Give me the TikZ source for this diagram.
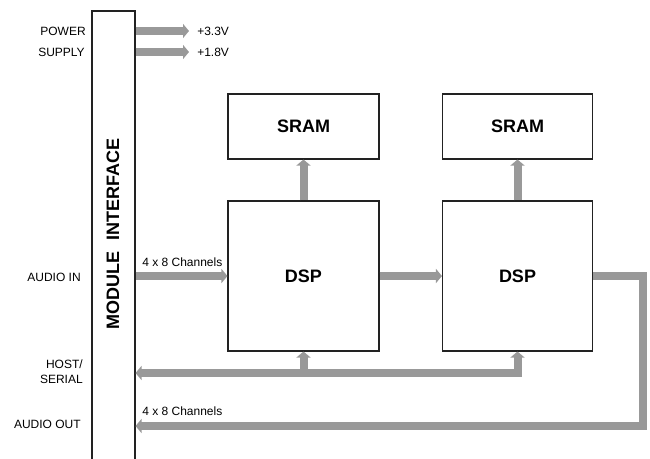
\documentclass[tikz,border=0pt]{standalone}
\usepackage{fontspec}
\setmainfont{Liberation Sans}
\usetikzlibrary{arrows.meta,calc}
\definecolor{busgray}{HTML}{999999}
\definecolor{boxline}{HTML}{222222}
\tikzset{
  tri/.tip={Triangle[length=4.5pt,width=10.5pt]},
  blockbox/.style={draw=boxline, line width=0.8pt, fill=white, inner sep=0pt,
    font=\bfseries\fontsize{13.5}{16}\selectfont},
  bus/.style={draw=busgray, line width=6pt, line join=miter, -tri},
  lbl/.style={font=\fontsize{9}{11}\selectfont, inner sep=0pt},
}
\begin{document}
\begin{tikzpicture}[x=0.75pt,y=-0.75pt]
\useasboundingbox (0,0) rectangle (650,458);
% module interface
\node[blockbox, minimum width=32.25pt, minimum height=344.25pt] (mod) at (113.5,240.5) {};
\node[rotate=90, inner sep=0pt, font=\bfseries\fontsize{13.5}{16}\selectfont] (modtxt) at (113,234) {MODULE\hspace{0.56em}INTERFACE};
% blocks
\node[blockbox, minimum width=113.25pt, minimum height=48.75pt] (sram1) at (303.5,126.5) {SRAM};
\node[blockbox, minimum width=112.5pt, minimum height=48.75pt] (sram2) at (517.5,126.5) {SRAM};
\node[blockbox, minimum width=113.25pt, minimum height=112.5pt] (dsp1) at (303.5,276) {DSP};
\node[blockbox, minimum width=112.5pt, minimum height=112.5pt] (dsp2) at (517.5,276) {DSP};
% left labels
\node[lbl, anchor=east] (lpow) at (86,31) {POWER};
\node[lbl, anchor=east] (lsup) at (85,52) {SUPPLY};
\node[lbl, anchor=east] (lain) at (81,277) {AUDIO IN};
\node[lbl, anchor=east, align=right] (lhost) at (83,372) {HOST/\\SERIAL};
\node[lbl, anchor=east] (laout) at (81,424) {AUDIO OUT};
% power outputs
\node[lbl, anchor=west] (v33) at (197,31) {+3.3V};
\node[lbl, anchor=west] (v18) at (197,52) {+1.8V};
\coordinate (p33) at (189,31);
\coordinate (p18) at (189,52);
\draw[bus] (mod.east |- p33) -- (p33);
\draw[bus] (mod.east |- p18) -- (p18);
% audio in
\node[lbl, anchor=west] (chin) at (142,262) {4 x 8 Channels};
\draw[bus] (mod.east |- dsp1.west) -- (dsp1.west);
% dsp chain
\draw[bus] (dsp1.east) -- (dsp2.west);
\draw[bus] (dsp1.north) -- (sram1.south);
\draw[bus] (dsp2.north) -- (sram2.south);
% host / serial bus
\coordinate (h1) at (303.5,373);
\coordinate (h2) at (517.5,373);
\draw[bus, tri-tri] (dsp2.south) -- (h2) -- (mod.east |- h2);
\draw[bus] (h1) -- (dsp1.south);
% audio out
\coordinate (o1) at (643,276);
\coordinate (o2) at (643,426);
\node[lbl, anchor=west] (chout) at (142,411) {4 x 8 Channels};
\draw[bus] (dsp2.east) -- (o1) -- (o2) -- (mod.east |- o2);
\end{tikzpicture}
\end{document}
